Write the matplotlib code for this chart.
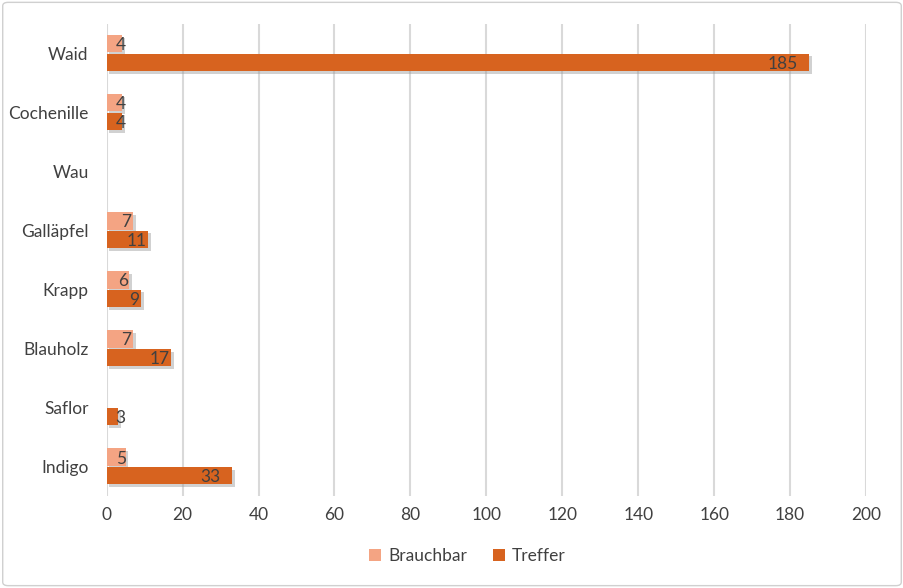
import matplotlib.pyplot as plt
import matplotlib.patheffects as pe
from matplotlib.patches import FancyBboxPatch
import numpy as np

# Daten (von unten nach oben)
farbstoffe = ['Indigo', 'Saflor', 'Blauholz', 'Krapp', 'Galläpfel', 'Wau', 'Cochenille', 'Waid']
brauchbar = [5, None, 7, 6, 7, None, 4, 4]
treffer = [33, 3, 17, 9, 11, None, 4, 185]

hell = '#F4A483'
dunkel = '#D7631F'
text_farbe = '#404040'

plt.rcParams['font.family'] = ['Lato', 'DejaVu Sans']

fig = plt.figure(figsize=(9.04, 5.88), dpi=100)
ax = fig.add_axes([0.118, 0.157, 0.84, 0.803])

y = np.arange(len(farbstoffe))
h = 0.3
schatten = [pe.SimplePatchShadow(offset=(2, -2), shadow_rgbFace='#999999', alpha=0.45), pe.Normal()]


def zeichne(werte, versatz, farbe, name):
    for i, v in enumerate(werte):
        if v is None:
            continue
        b = ax.barh(y[i] + versatz, v, height=h, color=farbe,
                    label=name if i == 0 else None, zorder=3)
        b[0].set_path_effects(schatten)
        abstand = 3 if v > 20 else 0.4
        ax.text(max(v - abstand, 5), y[i] + versatz - 0.03, str(v), ha='right', va='center',
                fontsize=12.5, color=text_farbe, zorder=4)


zeichne(brauchbar, 0.16, hell, 'Brauchbar')
zeichne(treffer, -0.16, dunkel, 'Treffer')

ax.set_xlim(0, 200)
ax.set_ylim(-0.5, len(farbstoffe) - 0.5)
ax.set_xticks(range(0, 201, 20))
ax.set_yticks(y)
ax.set_yticklabels(farbstoffe)
ax.tick_params(length=0, labelsize=12.5, labelcolor=text_farbe, pad=8)
ax.tick_params(axis='y', pad=13)
ax.grid(axis='x', color='#D9D9D9', linewidth=1.5, zorder=0)
for s in ax.spines.values():
    s.set_visible(False)

leg = ax.legend(loc='center', bbox_to_anchor=(0.475, (1 - 556 / 588 - 0.157) / 0.803), ncol=2,
                frameon=False, fontsize=12.5, handlelength=0.7, handleheight=0.7,
                columnspacing=1.5, handletextpad=0.4)
for t in leg.get_texts():
    t.set_color(text_farbe)
for p in leg.get_patches():
    p.set_path_effects([pe.Normal()])

rahmen = FancyBboxPatch((0.003, 0.004), 0.994, 0.992, boxstyle='round,pad=0,rounding_size=0.006',
                        transform=fig.transFigure, fill=False, edgecolor='#D0D0D0', linewidth=1)
fig.patches.append(rahmen)

fig.savefig('out.png', dpi=100)
